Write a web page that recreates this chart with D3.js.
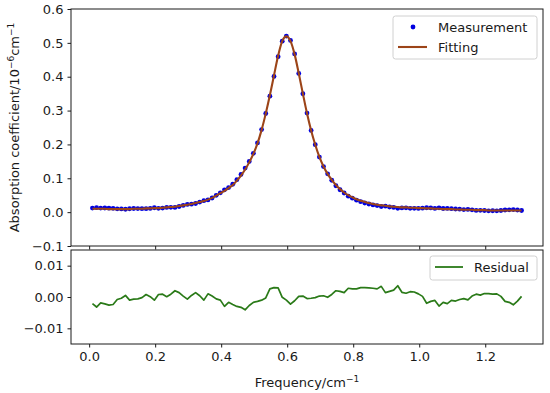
<!DOCTYPE html>
<html><head><meta charset="utf-8">
<script src="https://cdn.jsdelivr.net/npm/d3@7"></script>
<style>
body{margin:0;background:#fff;}
text{font-family:"DejaVu Sans",sans-serif;}
</style></head>
<body><svg id="c" width="550" height="393"></svg>
<script>
const freq = [0.010,0.0225,0.035,0.0475,0.060,0.0725,0.085,0.0975,0.110,0.1225,0.135,0.1475,0.160,0.1725,0.185,0.1975,0.210,0.2225,0.235,0.2475,0.260,0.2725,0.285,0.2975,0.310,0.3225,0.335,0.3475,0.360,0.3725,0.385,0.3975,0.410,0.4225,0.435,0.4475,0.460,0.4725,0.485,0.4975,0.510,0.5225,0.535,0.5475,0.560,0.5725,0.585,0.5975,0.610,0.6225,0.635,0.6475,0.660,0.6725,0.685,0.6975,0.710,0.7225,0.735,0.7475,0.760,0.7725,0.785,0.7975,0.810,0.8225,0.835,0.8475,0.860,0.8725,0.885,0.8975,0.910,0.9225,0.935,0.9475,0.960,0.9725,0.985,0.9975,1.010,1.0225,1.035,1.0475,1.060,1.0725,1.085,1.0975,1.110,1.1225,1.135,1.1475,1.160,1.1725,1.185,1.1975,1.210,1.2225,1.235,1.2475,1.260,1.2725,1.285,1.2975,1.310];
const measurement = [0.0121,0.0132,0.0119,0.0122,0.0116,0.0114,0.0098,0.0094,0.0085,0.0100,0.0107,0.0106,0.0102,0.0102,0.0109,0.0130,0.0112,0.0121,0.0139,0.0141,0.0140,0.0166,0.0197,0.0227,0.0235,0.0256,0.0296,0.0340,0.0360,0.0417,0.0496,0.0570,0.0660,0.0727,0.0824,0.0960,0.1113,0.1301,0.1497,0.1737,0.2044,0.2440,0.2913,0.3424,0.4010,0.4591,0.5051,0.5200,0.5073,0.4672,0.4098,0.3497,0.2925,0.2414,0.1992,0.1627,0.1346,0.1131,0.0942,0.0780,0.0662,0.0566,0.0472,0.0414,0.0354,0.0310,0.0270,0.0241,0.0212,0.0194,0.0166,0.0176,0.0152,0.0138,0.0114,0.0125,0.0128,0.0113,0.0114,0.0110,0.0118,0.0130,0.0124,0.0111,0.0129,0.0107,0.0111,0.0101,0.0093,0.0088,0.0075,0.0079,0.0067,0.0051,0.0054,0.0049,0.0039,0.0041,0.0040,0.0048,0.0064,0.0067,0.0075,0.0063,0.0048];
const fitting = [0.010,0.010,0.010,0.010,0.009,0.009,0.009,0.009,0.009,0.009,0.010,0.010,0.010,0.011,0.011,0.012,0.012,0.013,0.014,0.015,0.016,0.018,0.020,0.022,0.024,0.027,0.030,0.033,0.037,0.042,0.049,0.056,0.063,0.071,0.080,0.093,0.108,0.126,0.147,0.172,0.203,0.243,0.291,0.345,0.404,0.462,0.505,0.519,0.505,0.466,0.410,0.350,0.292,0.241,0.199,0.163,0.135,0.113,0.095,0.080,0.068,0.058,0.050,0.044,0.038,0.034,0.030,0.027,0.024,0.022,0.020,0.019,0.017,0.016,0.015,0.014,0.014,0.013,0.013,0.012,0.012,0.011,0.011,0.010,0.010,0.009,0.009,0.009,0.008,0.008,0.007,0.007,0.007,0.006,0.006,0.006,0.005,0.005,0.005,0.005,0.005,0.005,0.005,0.005,0.005];
const residual = [-0.0021,-0.0032,-0.0019,-0.0022,-0.0026,-0.0024,-0.0008,-0.0004,0.0005,-0.0010,-0.0007,-0.0006,-0.0002,0.0008,0.0001,-0.0010,0.0008,0.0009,0.0001,0.0009,0.0020,0.0014,0.0003,-0.0007,0.0005,0.0014,0.0004,-0.0010,0.0010,0.0003,-0.0006,-0.0010,-0.0030,-0.0017,-0.0024,-0.0030,-0.0033,-0.0041,-0.0027,-0.0017,-0.0014,-0.0010,-0.0003,0.0026,0.0030,0.0029,-0.0001,-0.0010,-0.0023,-0.0012,0.0002,0.0003,-0.0005,-0.0004,-0.0002,0.0003,0.0004,-0.0001,0.0008,0.0020,0.0018,0.0014,0.0028,0.0026,0.0026,0.0030,0.0030,0.0029,0.0028,0.0026,0.0034,0.0014,0.0018,0.0022,0.0036,0.0015,0.0012,0.0017,0.0016,0.0010,0.0002,-0.0020,-0.0014,-0.0011,-0.0029,-0.0017,-0.0021,-0.0011,-0.0013,-0.0008,-0.0005,-0.0009,0.0003,0.0009,0.0006,0.0011,0.0011,0.0009,0.0010,0.0002,-0.0014,-0.0017,-0.0025,-0.0013,0.0002];
const xTicks = [0.0,0.2,0.4,0.6,0.8,1.0,1.2];
const yTopTicks = [-0.1,0.0,0.1,0.2,0.3,0.4,0.5,0.6];
const yBotTicks = [-0.01,0.00,0.01];
const legendTop = ["Measurement","Fitting"];
const legendBot = ["Residual"];

const svg = d3.select("#c");
const L = 71, R = 543;
const topP = {t:9, b:246}, botP = {t:250, b:344};
const FS = 13, INK = "#1a1a1a";
const cBlue = "#0000e0", cFit = "#9c4418", cRes = "#2a7a18";

const x = d3.scaleLinear().domain([-0.055, 1.375]).range([L, R]);
const yT = d3.scaleLinear().domain([-0.1, 0.6]).range([topP.b, topP.t]);
const yB = d3.scaleLinear().domain([-0.015, 0.015]).range([botP.b, botP.t]);

const minus = s => s.replace("-", "\u2212");
function styleAxis(g){
  g.select(".domain").remove();
  g.selectAll(".tick line").attr("stroke", INK).attr("stroke-width", 1);
  g.selectAll(".tick text").attr("fill", INK).style("font-size", FS+"px").style("font-family","DejaVu Sans");
}
svg.append("g").attr("transform",`translate(${L},0)`)
  .call(d3.axisLeft(yT).tickValues(yTopTicks).tickSize(3.5).tickPadding(4).tickFormat(d=>minus(d3.format(".1f")(d))))
  .call(styleAxis);
svg.append("g").attr("transform",`translate(0,${topP.b})`)
  .call(d3.axisBottom(x).tickValues(xTicks).tickSize(3.5).tickFormat(""))
  .call(styleAxis);
svg.append("g").attr("transform",`translate(${L},0)`)
  .call(d3.axisLeft(yB).tickValues(yBotTicks).tickSize(3.5).tickPadding(4).tickFormat(d=>minus(d3.format(".2f")(d))))
  .call(styleAxis);
svg.append("g").attr("transform",`translate(0,${botP.b})`)
  .call(d3.axisBottom(x).tickValues(xTicks).tickSize(3.5).tickPadding(4).tickFormat(d=>d3.format(".1f")(d)))
  .call(styleAxis);

const pts = freq.map((f,i)=>({f, m:measurement[i], fit:fitting[i], r:residual[i]}));

const gT = svg.append("g");
gT.selectAll("circle").data(pts).join("circle")
  .attr("cx", d=>x(d.f)).attr("cy", d=>yT(d.m)).attr("r", 2.4).attr("fill", cBlue);
gT.append("path").datum(pts)
  .attr("d", d3.line().x(d=>x(d.f)).y(d=>yT(d.fit)).curve(d3.curveMonotoneX))
  .attr("fill","none").attr("stroke", cFit).attr("stroke-width", 2.1);

svg.append("path").datum(pts)
  .attr("d", d3.line().x(d=>x(d.f)).y(d=>yB(d.r)))
  .attr("fill","none").attr("stroke", cRes).attr("stroke-width", 1.7).attr("stroke-linejoin","round");

[topP, botP].forEach(p=>{
  svg.append("rect").attr("x",L).attr("y",p.t).attr("width",R-L).attr("height",p.b-p.t)
    .attr("fill","none").attr("stroke",INK).attr("stroke-width",1);
});

const lg1 = svg.append("g");
lg1.append("rect").attr("x",393).attr("y",16).attr("width",144).attr("height",43).attr("rx",2.5)
  .attr("fill","#fff").attr("fill-opacity",0.85).attr("stroke","#d0d0d0");
lg1.append("circle").attr("cx",413).attr("cy",27).attr("r",2.4).attr("fill",cBlue);
lg1.append("line").attr("x1",398).attr("x2",427).attr("y1",47).attr("y2",47).attr("stroke",cFit).attr("stroke-width",2.1);
lg1.selectAll("text").data(legendTop).join("text")
  .attr("x",438).attr("y",(d,i)=>27+i*20).attr("dy","0.35em")
  .attr("fill",INK).style("font-size",FS+"px").text(d=>d);

const lg2 = svg.append("g");
lg2.append("rect").attr("x",430).attr("y",256).attr("width",107).attr("height",24).attr("rx",2.5)
  .attr("fill","#fff").attr("fill-opacity",0.85).attr("stroke","#d0d0d0");
lg2.append("line").attr("x1",435).attr("x2",463).attr("y1",267).attr("y2",267).attr("stroke",cRes).attr("stroke-width",1.8);
lg2.selectAll("text").data(legendBot).join("text")
  .attr("x",474).attr("y",267).attr("dy","0.35em")
  .attr("fill",INK).style("font-size",FS+"px").text(d=>d);

const xl = svg.append("text").attr("x",(L+R)/2).attr("y",387).attr("text-anchor","middle")
  .attr("fill",INK).style("font-size",FS+"px");
xl.append("tspan").text("Frequency/cm");
xl.append("tspan").attr("dy",-5).style("font-size","9px").text("\u22121");

const yl = svg.append("text").attr("transform",`translate(19,${(topP.t+topP.b)/2}) rotate(-90)`)
  .attr("text-anchor","middle").attr("fill",INK).style("font-size",FS+"px");
yl.append("tspan").text("Absorption coefficient/10");
yl.append("tspan").attr("dy",-5).style("font-size","9px").text("\u22126");
yl.append("tspan").attr("dy",5).text("cm");
yl.append("tspan").attr("dy",-5).style("font-size","9px").text("\u22121");
</script></body></html>
